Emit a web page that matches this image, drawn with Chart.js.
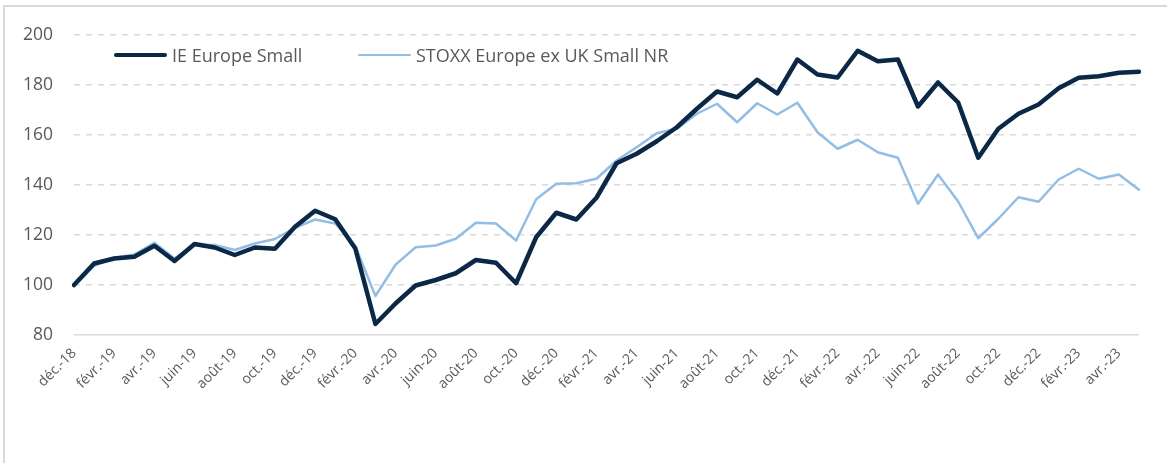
<!DOCTYPE html>
<html>
<head>
<meta charset="utf-8">
<script src="https://cdn.jsdelivr.net/npm/chart.js@4/dist/chart.umd.min.js"></script>
<style>
    html, body { margin: 0; padding: 0; background: #ffffff; overflow: hidden; }
    #wrap { position: relative; width: 1167px; height: 463px; }
    #frame { position: absolute; left: 3px; top: 5px; width: 1180px; height: 480px;
             border-top: 2px solid #d9d9d9; border-left: 2px solid #d9d9d9; box-sizing: border-box; }
    #legend { position: absolute; top: 43px; left: 114px; font-family: "Open Sans", sans-serif;
              font-size: 18px; color: #595959; white-space: nowrap; }
    .item { position: absolute; top: 0; display: flex; align-items: center; }
    .swatch { display: inline-block; width: 53px; margin-right: 5px; }
</style>
</head>
<body>
<div id="wrap">
    <div id="frame"></div>
    <canvas id="perf-chart" width="1167" height="463"></canvas>
    <div id="legend"></div>
</div>
<script>
// Monthly points, déc.-18 to mai-23
const months = [
    'déc.-18', 'janv.-19', 'févr.-19', 'mars-19', 'avr.-19', 'mai-19', 'juin-19', 'juil.-19', 'août-19', 'sept.-19', 'oct.-19', 'nov.-19',
    'déc.-19', 'janv.-20', 'févr.-20', 'mars-20', 'avr.-20', 'mai-20', 'juin-20', 'juil.-20', 'août-20', 'sept.-20', 'oct.-20', 'nov.-20',
    'déc.-20', 'janv.-21', 'févr.-21', 'mars-21', 'avr.-21', 'mai-21', 'juin-21', 'juil.-21', 'août-21', 'sept.-21', 'oct.-21', 'nov.-21',
    'déc.-21', 'janv.-22', 'févr.-22', 'mars-22', 'avr.-22', 'mai-22', 'juin-22', 'juil.-22', 'août-22', 'sept.-22', 'oct.-22', 'nov.-22',
    'déc.-22', 'janv.-23', 'févr.-23', 'mars-23', 'avr.-23', 'mai-23'
];

const ieEuropeSmall = [
    100, 108.6, 110.6, 111.3, 115.7, 109.6, 116.4, 115, 112, 115, 114.5, 123.3,
    129.7, 126.3, 114.6, 84.4, 92.6, 99.8, 102, 104.7, 110, 108.9, 100.7, 119.1,
    128.9, 126.2, 134.9, 148.7, 152.5, 157.5, 163.1, 170.5, 177.4, 175.1, 182.1, 176.6,
    190.2, 184.2, 183, 193.7, 189.5, 190.2, 171.4, 181, 173, 150.9, 162.5, 168.5,
    172.2, 178.7, 182.9, 183.5, 184.9, 185.3
];

const stoxxExUkSmall = [
    99.6, 107.7, 110.9, 112.2, 116.9, 110.6, 116.1, 116, 114, 116.6, 118.4, 122.9,
    126.2, 124.6, 115.6, 95.6, 108.1, 115.1, 115.8, 118.5, 124.9, 124.6, 117.8, 134.3,
    140.5, 140.7, 142.5, 149.8, 155.1, 160.7, 162.5, 168.5, 172.5, 165.1, 172.7, 168.2,
    172.9, 161.1, 154.5, 158.1, 153.1, 150.9, 132.5, 144.2, 133.4, 118.7, 126.5, 135.1,
    133.3, 142.2, 146.5, 142.5, 144.2, 138.1
];

const seriesNames = ['IE Europe Small', 'STOXX Europe ex UK Small NR'];
const seriesColors = ['#0b2846', '#92bde4'];
const seriesWidths = [4.5, 2.5];

const textColor = '#595959';
const gridColor = '#d9d9d9';

const chart = new Chart(document.getElementById('perf-chart').getContext('2d'), {
    type: 'line',
    data: {
        labels: months,
        datasets: [
            {
                label: seriesNames[0],
                data: ieEuropeSmall,
                borderColor: seriesColors[0],
                backgroundColor: seriesColors[0],
                borderWidth: seriesWidths[0],
                order: 0
            },
            {
                label: seriesNames[1],
                data: stoxxExUkSmall,
                borderColor: seriesColors[1],
                backgroundColor: seriesColors[1],
                borderWidth: seriesWidths[1],
                order: 1
            }
        ]
    },
    options: {
        responsive: false,
        animation: false,
        devicePixelRatio: 1,
        elements: {
            point: { radius: 0 },
            line: { tension: 0, borderJoinStyle: 'round', borderCapStyle: 'round' }
        },
        layout: {
            padding: { left: 0, right: 28, top: 35, bottom: 0 }
        },
        plugins: {
            legend: { display: false },
            tooltip: { enabled: false }
        },
        scales: {
            x: {
                offset: false,
                grid: { display: false },
                border: { display: false },
                ticks: {
                    autoSkip: false,
                    minRotation: 45,
                    maxRotation: 45,
                    padding: 2,
                    color: textColor,
                    font: { family: 'Open Sans', size: 14 },
                    callback: function (value, index) {
                        return index % 2 === 0 ? months[index] : '';
                    }
                },
                afterFit: function (scale) {
                    scale.height = 463 - 335;
                }
            },
            y: {
                min: 80,
                max: 200,
                ticks: {
                    stepSize: 20,
                    padding: 21,
                    color: textColor,
                    font: { family: 'Open Sans', size: 17.5 }
                },
                grid: {
                    drawTicks: false,
                    color: gridColor,
                    lineWidth: 1.5
                },
                border: {
                    display: false,
                    dash: function (ctx) {
                        return ctx.tick && ctx.tick.value === 80 ? [] : [6, 6];
                    }
                },
                afterFit: function (scale) {
                    scale.width = 74;
                }
            }
        }
    }
});

// Legend drawn as html, placed inside the plot like the original
const legend = document.getElementById('legend');
const legendOffsets = [0, 244];
seriesNames.forEach(function (name, i) {
    const item = document.createElement('div');
    item.className = 'item';
    item.style.left = legendOffsets[i] + 'px';
    const swatch = document.createElement('span');
    swatch.className = 'swatch';
    swatch.style.height = seriesWidths[i] + 'px';
    swatch.style.background = seriesColors[i];
    swatch.style.borderRadius = '2px';
    const label = document.createElement('span');
    label.textContent = name;
    item.appendChild(swatch);
    item.appendChild(label);
    legend.appendChild(item);
});
</script>
</body>
</html>
